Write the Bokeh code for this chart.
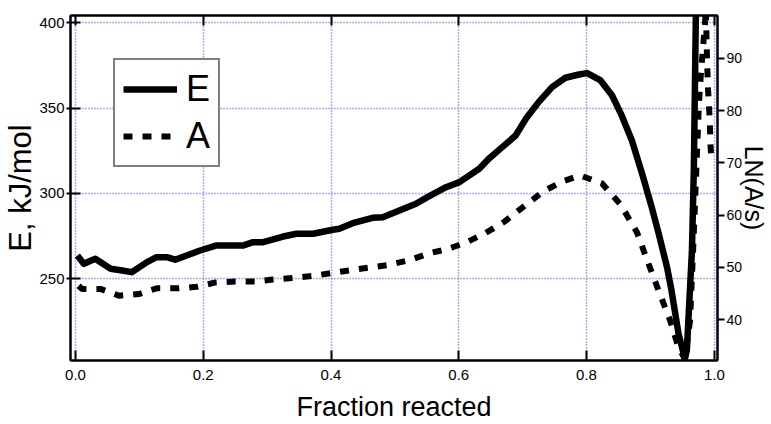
import numpy as np
from bokeh.plotting import figure
from bokeh.models import Range1d, LinearAxis, FixedTicker, Legend, LegendItem
from bokeh.embed import file_html
from bokeh.resources import INLINE

# ---- data ----
frac_E = [0.003, 0.013, 0.031, 0.055, 0.073, 0.088, 0.112, 0.127, 0.143, 0.156,
          0.174, 0.195, 0.221, 0.263, 0.278, 0.294, 0.325, 0.346, 0.372, 0.403,
          0.413, 0.434, 0.465, 0.481, 0.507, 0.533, 0.551, 0.580, 0.601, 0.632,
          0.647, 0.668, 0.689, 0.705, 0.725, 0.746, 0.767, 0.788, 0.801, 0.822,
          0.840, 0.855, 0.871, 0.887, 0.902, 0.913, 0.926, 0.933, 0.944, 0.954,
          0.957, 0.965, 0.968, 0.971, 0.9725]
E_kJ = [263.5, 258.7, 261.7, 255.8, 254.8, 253.8, 259.7, 262.6, 262.6, 261.1,
        263.6, 266.5, 269.5, 269.5, 271.4, 271.4, 274.7, 276.3, 276.3, 278.7,
        279.3, 282.5, 285.7, 286.0, 290.0, 293.9, 297.8, 303.6, 306.6, 314.4,
        320.3, 327.1, 333.9, 343.7, 353.5, 362.3, 367.8, 369.7, 370.5, 366.2,
        357.4, 345.7, 331.0, 311.5, 291.9, 276.3, 256.7, 243.1, 217.7, 203.0,
        208.0, 266.5, 315.0, 401.0, 430.0]

frac_A = [0.005, 0.010, 0.039, 0.068, 0.099, 0.127, 0.159, 0.190, 0.218, 0.250,
          0.281, 0.309, 0.340, 0.372, 0.400, 0.432, 0.461, 0.491, 0.523, 0.553,
          0.582, 0.612, 0.642, 0.672, 0.702, 0.733, 0.763, 0.790, 0.824, 0.853,
          0.879, 0.897, 0.913, 0.931, 0.944, 0.954, 0.962, 0.967, 0.9724, 0.976,
          0.979, 0.9828, 0.9854, 0.9868, 0.9886, 0.9902, 0.9927, 0.9942, 0.995]
lnA = [46.5, 45.9, 45.9, 44.6, 44.9, 46.0, 46.0, 46.3, 47.1, 47.3,
       47.3, 47.7, 48.0, 48.4, 48.9, 49.5, 50.0, 50.5, 51.4, 52.7,
       53.5, 54.8, 56.6, 58.8, 61.7, 64.6, 66.5, 67.6, 66.1, 62.1,
       56.7, 50.7, 45.5, 39.8, 34.7, 32.5, 39.8, 53.8, 70.4, 81.6,
       87.0, 92.8, 96.6, 99.5, 89.7, 84.1, 78.6, 73.0, 71.5]

x_ticks = [0.0, 0.2, 0.4, 0.6, 0.8, 1.0]
left_ticks = [250, 300, 350, 400]
right_ticks = [40, 50, 60, 70, 80, 90]

series_names = ["E", "A"]
x_title = "Fraction reacted"
left_title = "E, kJ/mol"
right_title = "LN(A/s)"

FONT = "'Liberation Sans', Arial, Helvetica, sans-serif"
GRID = "#5a5aff"

p = figure(width=771, height=424, output_backend="svg", toolbar_location=None,
           x_range=Range1d(-0.0078, 1.005), y_range=Range1d(202, 404.3),
           min_border_left=70, min_border_right=52, min_border_top=15,
           min_border_bottom=64)
p.background_fill_color = "white"
p.border_fill_color = "white"
p.outline_line_color = "black"
p.outline_line_width = 2

p.extra_y_ranges = {"right": Range1d(32.2, 98.2)}

# bottom axis
xa = p.xaxis[0]
xa.ticker = FixedTicker(ticks=x_ticks)
xa.major_label_overrides = {t: f"{t:.1f}" for t in x_ticks}
xa.axis_label = x_title
xa.axis_label_text_font = FONT
xa.axis_label_text_font_style = "normal"
xa.axis_label_text_font_size = "27px"
xa.axis_label_text_color = "black"
xa.axis_label_standoff = 9
xa.major_label_text_font = FONT
xa.major_label_text_font_size = "15px"
xa.major_label_text_color = "black"
xa.major_label_standoff = 9
xa.major_tick_in = 10
xa.major_tick_out = 0
xa.major_tick_line_width = 2
xa.minor_tick_line_color = None
xa.axis_line_width = 2

# left axis
ya = p.yaxis[0]
ya.ticker = FixedTicker(ticks=left_ticks)
ya.axis_label = left_title
ya.axis_label_text_font = FONT
ya.axis_label_text_font_style = "normal"
ya.axis_label_text_font_size = "31px"
ya.axis_label_text_color = "black"
ya.axis_label_standoff = -2
ya.major_label_text_font = FONT
ya.major_label_text_font_size = "15px"
ya.major_label_text_color = "black"
ya.major_label_standoff = 2
ya.major_tick_in = 10
ya.major_tick_out = 4
ya.major_tick_line_width = 2
ya.minor_tick_line_color = None
ya.axis_line_width = 2

# right axis
ra = LinearAxis(y_range_name="right", ticker=FixedTicker(ticks=right_ticks))
ra.axis_label = right_title
ra.axis_label_text_font = FONT
ra.axis_label_text_font_style = "normal"
ra.axis_label_text_font_size = "25px"
ra.axis_label_text_color = "black"
ra.axis_label_standoff = -5
ra.major_label_text_font = FONT
ra.major_label_text_font_size = "14px"
ra.major_label_text_color = "black"
ra.major_label_standoff = 2
ra.major_tick_in = 0
ra.major_tick_out = 7
ra.major_tick_line_width = 2
ra.minor_tick_line_color = None
ra.axis_line_width = 2
p.add_layout(ra, "right")

# top axis (ticks only, no labels)
ta = LinearAxis(ticker=FixedTicker(ticks=x_ticks))
ta.major_label_text_font_size = "1px"
ta.major_label_text_color = None
ta.major_label_standoff = 0
ta.major_tick_in = 10
ta.major_tick_out = 0
ta.major_tick_line_width = 2
ta.minor_tick_line_color = None
ta.axis_line_width = 2
p.add_layout(ta, "above")

# grid
for g in (p.xgrid[0], p.ygrid[0]):
    g.grid_line_color = GRID
    g.grid_line_dash = "1 2"
    g.grid_line_width = 1.5

# curves
r_E = p.line(frac_E, E_kJ, line_color="black", line_width=6.5,
             line_join="round")
r_A = p.line(frac_A, lnA, y_range_name="right", line_color="black",
             line_width=6, line_dash="9 10", line_cap="butt")

legend = Legend(items=[LegendItem(label=series_names[0], renderers=[r_E]),
                       LegendItem(label=series_names[1], renderers=[r_A])],
                location=(43, 193), orientation="vertical",
                border_line_color="black", border_line_width=2,
                background_fill_color="white", background_fill_alpha=1.0,
                padding=8, spacing=5, margin=0,
                glyph_width=54, glyph_height=30, label_standoff=9,
                label_text_font=FONT, label_text_font_size="36px",
                label_text_color="black")
p.add_layout(legend)

open("out.html", "w").write(file_html(p, INLINE))
